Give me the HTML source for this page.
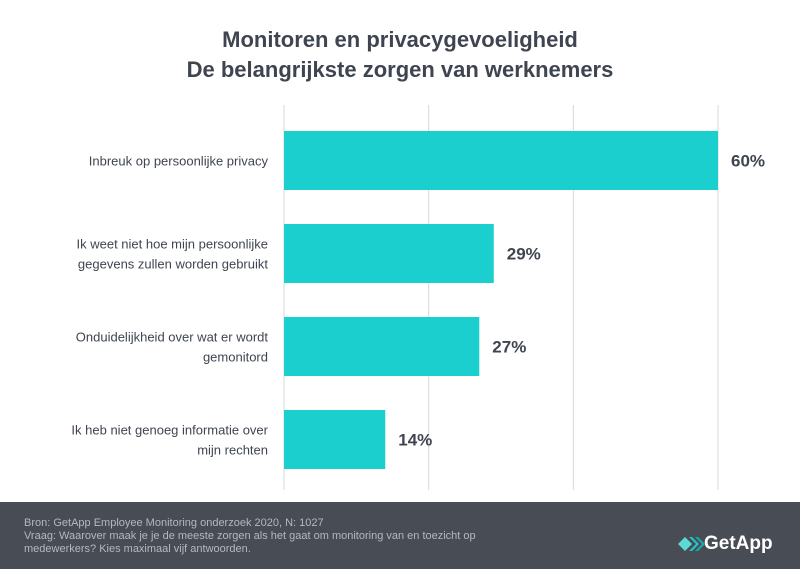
<!DOCTYPE html>
<html><head><meta charset="utf-8"><style>
body{margin:0;width:800px;height:569px;background:#fff;font-family:"Liberation Sans",sans-serif;position:relative;overflow:hidden}
.t{position:absolute;left:0;width:800px;text-align:center;font-weight:bold;font-size:22px;color:#3f4550}
.foot{position:absolute;left:0;top:502px;width:800px;height:67px;background:#474c55}
.ft{position:absolute;left:24px;top:15px;font-size:11px;line-height:13px;color:#b4b8bf}
</style></head><body>
<div class="t" style="top:27px">Monitoren en privacygevoeligheid</div>
<div class="t" style="top:57px">De belangrijkste zorgen van werknemers</div>
<svg id="c" width="800" height="502" style="position:absolute;left:0;top:0"></svg>
<div class="foot">
<div class="ft">Bron: GetApp Employee Monitoring onderzoek 2020, N: 1027<br>Vraag: Waarover maak je je de meeste zorgen als het gaat om monitoring van en toezicht op<br>medewerkers? Kies maximaal vijf antwoorden.</div>
<div style="position:absolute;left:678px;top:32px;height:20px">
<svg width="28" height="14" style="position:absolute;left:0;top:3px"><path d="M0 7 L7 0 L14 7 L7 14Z" fill="#5fd9d4"/><path d="M11 0 L18 7 L11 14 L14 14 L21 7 L14 0Z" fill="#1fc7c7"/><path d="M17 0 L24 7 L17 14 L20 14 L27 7 L20 0Z" fill="#1aa8ad"/></svg>
<span style="position:absolute;left:26px;top:-1px;color:#fff;font-size:19px;font-weight:bold">GetApp</span></div>
</div>
<script>
const categories=[["Inbreuk op persoonlijke privacy"],["Ik weet niet hoe mijn persoonlijke","gegevens zullen worden gebruikt"],["Onduidelijkheid over wat er wordt","gemonitord"],["Ik heb niet genoeg informatie over","mijn rechten"]];
const values=[60,29,27,14];
const labels=["60%","29%","27%","14%"];
const ticks=[0,20,40,60];
const svg=document.getElementById('c'),NS="http://www.w3.org/2000/svg";
const x0=284,x1=718,xmax=60,y0=114,band=93,bh=59;
const xs=v=>x0+(x1-x0)*v/xmax;
function mk(t,a){const e=document.createElementNS(NS,t);for(const k in a)e.setAttribute(k,a[k]);svg.appendChild(e);return e;}
ticks.forEach(t=>{const g=mk('line',{x1:xs(t),x2:xs(t),y1:105,y2:490,stroke:'#d6d8dc','stroke-width':1});

});
values.forEach((v,i)=>{const y=y0+i*band+17;
const r=mk('rect',{x:x0,y:y,width:xs(v)-x0,height:bh,fill:'#1ccfcf'});


const l=mk('text',{x:xs(v)+13,y:y+bh/2+6,'font-size':17,'font-weight':'bold',fill:'#3f4550'});l.textContent=labels[i];


const lines=categories[i];lines.forEach((s,j)=>{const tt=mk('text',{x:268,y:y+bh/2+5+(j-(lines.length-1)/2)*20,'text-anchor':'end','font-size':13,fill:'#3f4550'});tt.textContent=s;

});});
</script>
</body></html>
